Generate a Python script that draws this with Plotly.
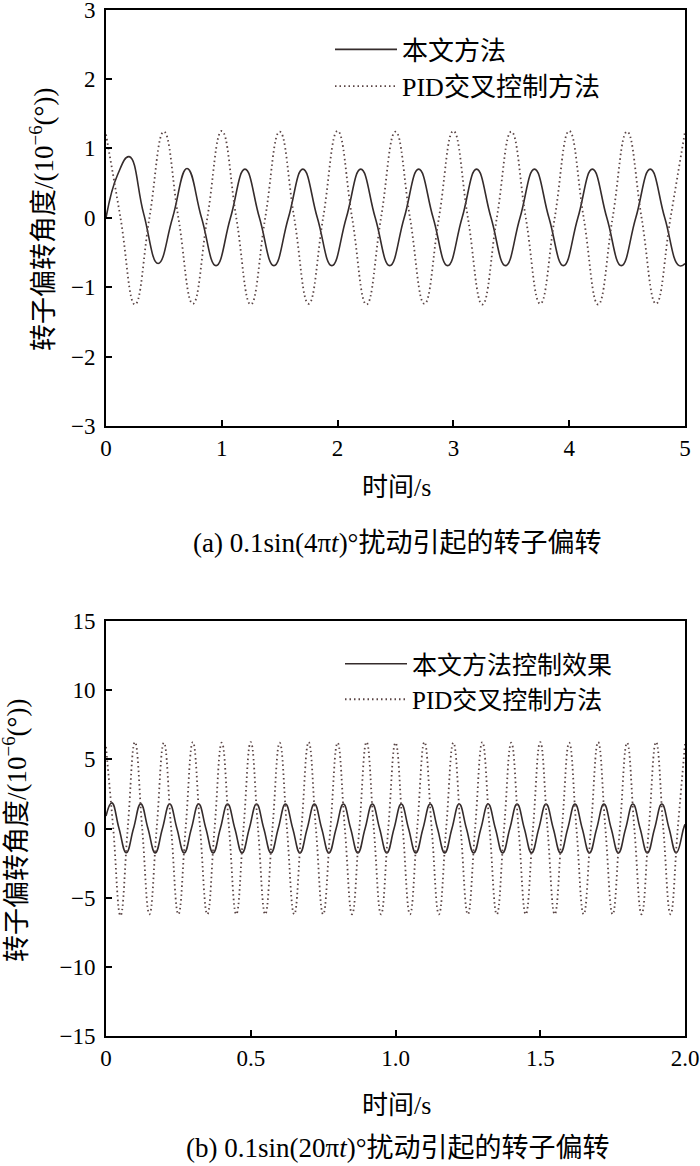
import numpy as np
import plotly.graph_objects as go

W, H = 700, 1166

# ---------------- data: panel (a) 0.1sin(4πt) ----------------
a_t_pid = list(np.round(np.arange(41) * 0.125, 4))          # 0 .. 5 s
a_pid = [
    1.20, 0, -1.25, 0,
    1.24, 0, -1.24, 0,
    1.25, 0, -1.25, 0,
    1.24, 0, -1.24, 0,
    1.25, 0, -1.25, 0,
    1.24, 0, -1.24, 0,
    1.25, 0, -1.25, 0,
    1.24, 0, -1.24, 0,
    1.25, 0, -1.25, 0,
    1.24, 0, -1.24, 0,
    1.24,
]
a_t_ours = [0.0, 0.1] + list(np.round(0.2 + np.arange(39) * 0.125, 4)) + [5.0]
a_ours = [
    0.0, 0.62,
    0.88, 0.06, -0.66, 0,
    0.71, 0, -0.69, 0,
    0.70, 0, -0.69, 0,
    0.70, 0, -0.69, 0,
    0.70, 0, -0.69, 0,
    0.70, 0, -0.69, 0,
    0.70, 0, -0.69, 0,
    0.70, 0, -0.69, 0,
    0.70, 0, -0.69, 0,
    0.70, 0, -0.69,
    -0.66,
]

# ---------------- data: panel (b) 0.1sin(20πt) ----------------
b_t_pid = list(np.round(np.arange(81) * 0.025, 4))          # 0 .. 2 s
b_pid = [
    5.9, 0, -6.3, 0,
    6.25, 0, -6.2, 0,
    6.2, 0, -6.2, 0,
    6.25, 0, -6.2, 0,
    6.2, 0, -6.2, 0,
    6.25, 0, -6.2, 0,
    6.2, 0, -6.2, 0,
    6.25, 0, -6.2, 0,
    6.2, 0, -6.2, 0,
    6.25, 0, -6.2, 0,
    6.2, 0, -6.2, 0,
    6.25, 0, -6.2, 0,
    6.2, 0, -6.2, 0,
    6.25, 0, -6.2, 0,
    6.2, 0, -6.2, 0,
    6.25, 0, -6.2, 0,
    6.2, 0, -6.2, 0,
    6.25, 0, -6.2, 0,
    6.2, 0, -6.2, 0,
    6.25, 0, -6.2, 0,
    6.1,
]
b_t_ours = [0.0] + list(np.round(0.02 + np.arange(80) * 0.025, 4)) + [2.0]
b_ours = [
    0.9,
    1.85, 0, -1.75, 0,
    1.78, 0, -1.76, 0,
    1.77, 0, -1.76, 0,
    1.77, 0, -1.76, 0,
    1.77, 0, -1.76, 0,
    1.77, 0, -1.76, 0,
    1.77, 0, -1.76, 0,
    1.77, 0, -1.76, 0,
    1.77, 0, -1.76, 0,
    1.77, 0, -1.76, 0,
    1.77, 0, -1.76, 0,
    1.77, 0, -1.76, 0,
    1.77, 0, -1.76, 0,
    1.77, 0, -1.76, 0,
    1.77, 0, -1.76, 0,
    1.77, 0, -1.76, 0,
    1.77, 0, -1.76, 0,
    1.77, 0, -1.76, 0,
    1.77, 0, -1.76, 0,
    1.77, 0, -1.76, 0,
    0.3,
]

a_xticks = [0, 1, 2, 3, 4, 5]
a_yticks = [-3, -2, -1, 0, 1, 2, 3]
b_xticks = [0, 0.5, 1.0, 1.5, 2.0]
b_xticktext = ["0", "0.5", "1.0", "1.5", "2.0"]
b_yticks = [-15, -10, -5, 0, 5, 10, 15]

name_a_ours = "本文方法"
name_b_ours = "本文方法控制效果"
name_pid = "PID交叉控制方法"
ytitle = "转子偏转角度/(10<sup>−6</sup>(°))"
xtitle = "时间/s"
cap_a = "(a) 0.1sin(4π<i>t</i>)°扰动引起的转子偏转"
cap_b = "(b) 0.1sin(20π<i>t</i>)°扰动引起的转子偏转"

FONT = "Liberation Serif, Noto Sans CJK SC, serif"
C_SOLID = "#352c2c"
C_DOT = "#5a4444"


def px(x):
    return x / W


def py(y):
    return 1 - y / H


fig = go.Figure()

line_solid = dict(color=C_SOLID, width=1.6, shape="spline", smoothing=1.3)
line_dot = dict(color=C_DOT, width=1.8, dash="1.5px,3px", shape="spline", smoothing=1.3)

fig.add_trace(go.Scatter(x=a_t_ours, y=a_ours, mode="lines", name=name_a_ours,
                         line=line_solid, xaxis="x", yaxis="y", legend="legend"))
fig.add_trace(go.Scatter(x=a_t_pid, y=a_pid, mode="lines", name=name_pid,
                         line=line_dot, xaxis="x", yaxis="y", legend="legend"))
fig.add_trace(go.Scatter(x=b_t_ours, y=b_ours, mode="lines", name=name_b_ours,
                         line=line_solid, xaxis="x2", yaxis="y2", legend="legend2"))
fig.add_trace(go.Scatter(x=b_t_pid, y=b_pid, mode="lines", name=name_pid,
                         line=line_dot, xaxis="x2", yaxis="y2", legend="legend2"))

axis_common = dict(
    showline=True, linecolor="black", linewidth=2, mirror=True,
    ticks="inside", ticklen=6, tickwidth=1.5, tickcolor="black",
    showgrid=False, zeroline=False, automargin=False,
    ticklabeloverflow="allow",
    tickfont=dict(family=FONT, size=23, color="black"),
)

x_dom = [px(106), px(685)]
fig.update_layout(
    width=W, height=H,
    margin=dict(l=0, r=0, t=0, b=0),
    paper_bgcolor="white", plot_bgcolor="white",
    font=dict(family=FONT, color="black"),
    xaxis=dict(domain=x_dom, range=[0, 5], tickvals=a_xticks, anchor="y", **axis_common),
    yaxis=dict(domain=[py(426), py(9.5)], range=[-3, 3], tickvals=a_yticks, anchor="x",
               ticklabelstandoff=4, **axis_common),
    xaxis2=dict(domain=x_dom, range=[0, 2], tickvals=b_xticks, ticktext=b_xticktext, anchor="y2", **axis_common),
    yaxis2=dict(domain=[py(1036), py(621)], range=[-15, 15], tickvals=b_yticks, anchor="x2",
                ticklabelstandoff=4, **axis_common),
    legend=dict(x=px(330), y=py(26), xanchor="left", yanchor="top",
                bgcolor="rgba(0,0,0,0)", itemwidth=62, tracegroupgap=0,
                font=dict(family=FONT, size=26, color="black")),
    legend2=dict(x=px(340), y=py(641), xanchor="left", yanchor="top",
                 bgcolor="rgba(0,0,0,0)", itemwidth=62, tracegroupgap=0,
                 font=dict(family=FONT, size=25, color="black")),
    showlegend=True,
)

ann = []


def text(t, x, y, size, angle=0):
    ann.append(dict(text=t, x=px(x), y=py(y), xref="paper", yref="paper",
                    showarrow=False, xanchor="center", yanchor="middle",
                    textangle=angle, font=dict(family=FONT, size=size, color="black")))


text(ytitle, 42, 220, 27, -90)
text(xtitle, 396, 488, 26)
text(cap_a, 397, 543, 27)
text(ytitle, 15, 831, 27, -90)
text(xtitle, 396, 1105, 26)
text(cap_b, 397, 1148, 27)
fig.update_layout(annotations=ann)

# remove the default 8px body margin so the figure fills the window exactly
fig.write_html("out.html", config={"displayModeBar": False},
               post_script="document.body.style.margin='0px';document.body.style.overflow='hidden';")
